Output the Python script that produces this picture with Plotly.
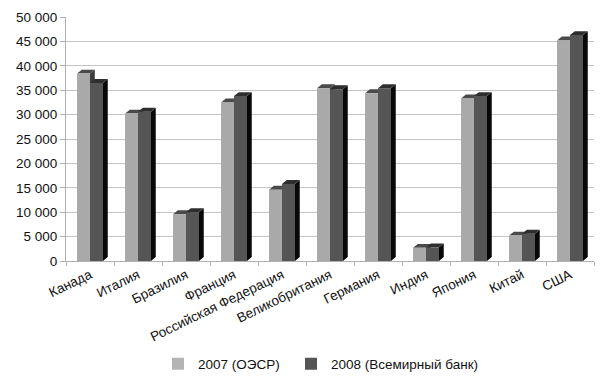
import plotly.graph_objects as go

categories = ["Канада", "Италия", "Бразилия", "Франция", "Российская Федерация",
              "Великобритания", "Германия", "Индия", "Япония", "Китай", "США"]
values_2007 = [38400, 30200, 9600, 32500, 14600, 35400, 34400, 2700, 33300, 5200, 45200]
values_2008 = [36500, 30600, 10000, 33800, 15800, 35200, 35400, 2800, 33800, 5600, 46300]
series_names = ["2007 (ОЭСР)", "2008 (Всемирный банк)"]
y_ticks = [0, 5000, 10000, 15000, 20000, 25000, 30000, 35000, 40000, 45000, 50000]
y_tick_labels = ["0", "5 000", "10 000", "15 000", "20 000", "25 000", "30 000",
                 "35 000", "40 000", "45 000", "50 000"]

LIGHT = "#a9a9a9"
DARK = "#555555"
BAR_W = 0.27          # width of each bar in category units
DX = 0.10             # depth offset (category units) for the pseudo-3D faces
DY = 800              # depth offset (value units) for the pseudo-3D faces

fig = go.Figure()
fig.add_trace(go.Bar(x=categories, y=values_2007, name=series_names[0], showlegend=False,
                     width=BAR_W, offset=-BAR_W,
                     marker=dict(color=LIGHT, line=dict(width=0))))
fig.add_trace(go.Bar(x=categories, y=values_2008, name=series_names[1], showlegend=False,
                     width=BAR_W, offset=0,
                     marker=dict(color=DARK, line=dict(width=0))))

# legend entries with square swatches (one legend each, to place them like the original)
fig.add_trace(go.Scatter(x=[None], y=[None], mode="markers", name=series_names[0],
                         legend="legend",
                         marker=dict(symbol="square", size=15, color="#b4b4b4")))
fig.add_trace(go.Scatter(x=[None], y=[None], mode="markers", name=series_names[1],
                         legend="legend2",
                         marker=dict(symbol="square", size=15, color="#555555")))

# pseudo-3D top and side faces derived from the data values
shapes = []
for i, (a, b) in enumerate(zip(values_2007, values_2008)):
    xl, xr = i - BAR_W, i
    shapes.append(dict(type="path", xref="x", yref="y", layer="between",
                       path=f"M{xr},{a} L{xr+DX},{a+DY} L{xr+DX},{DY} L{xr},0 Z",
                       fillcolor="#3c3c3c", line=dict(width=0)))
    shapes.append(dict(type="path", xref="x", yref="y", layer="between",
                       path=f"M{xl},{a} L{xr},{a} L{xr+DX},{a+DY} L{xl+DX},{a+DY} Z",
                       fillcolor="#4a4a4a", line=dict(width=0)))
    xl, xr = i, i + BAR_W
    shapes.append(dict(type="path", xref="x", yref="y", layer="above",
                       path=f"M{xr},{b} L{xr+DX},{b+DY} L{xr+DX},{DY} L{xr},0 Z",
                       fillcolor="#080808", line=dict(width=0)))
    shapes.append(dict(type="path", xref="x", yref="y", layer="above",
                       path=f"M{xl},{b} L{xr},{b} L{xr+DX},{b+DY} L{xl+DX},{b+DY} Z",
                       fillcolor="#2e2e2e", line=dict(width=0)))

legend_common = dict(orientation="h", xref="container", yref="container",
                     xanchor="left", yanchor="middle", y=0.035,
                     font=dict(size=13.5), itemsizing="constant",
                     bgcolor="rgba(0,0,0,0)", borderwidth=0)

fig.update_layout(
    width=599, height=369,
    margin=dict(l=58, r=13, t=9, b=116, autoexpand=False),
    paper_bgcolor="white", plot_bgcolor="white",
    barmode="overlay",
    shapes=shapes,
    font=dict(family="Liberation Sans, Arial, sans-serif", size=12, color="#111111"),
    showlegend=True,
    legend=dict(x=150 / 599, **legend_common),
    legend2=dict(x=283 / 599, **legend_common),
)
fig.update_xaxes(
    tickangle=-26, showline=True, linecolor="#b0b0b0", linewidth=1,
    ticks="outside", tickson="boundaries", ticklen=4, tickcolor="#b0b0b0",
    tickfont=dict(size=13.5), showgrid=False, range=[-0.5, 10.5], automargin=False,
)
fig.update_yaxes(
    range=[0, 50000], tickvals=y_ticks, ticktext=y_tick_labels,
    showgrid=True, gridcolor="#c4c4c4", gridwidth=1,
    showline=True, linecolor="#b0b0b0", linewidth=1,
    ticks="outside", ticklen=5, tickcolor="#b0b0b0",
    tickfont=dict(size=13.5), zeroline=False, automargin=False,
)

fig.write_html("out.html")
